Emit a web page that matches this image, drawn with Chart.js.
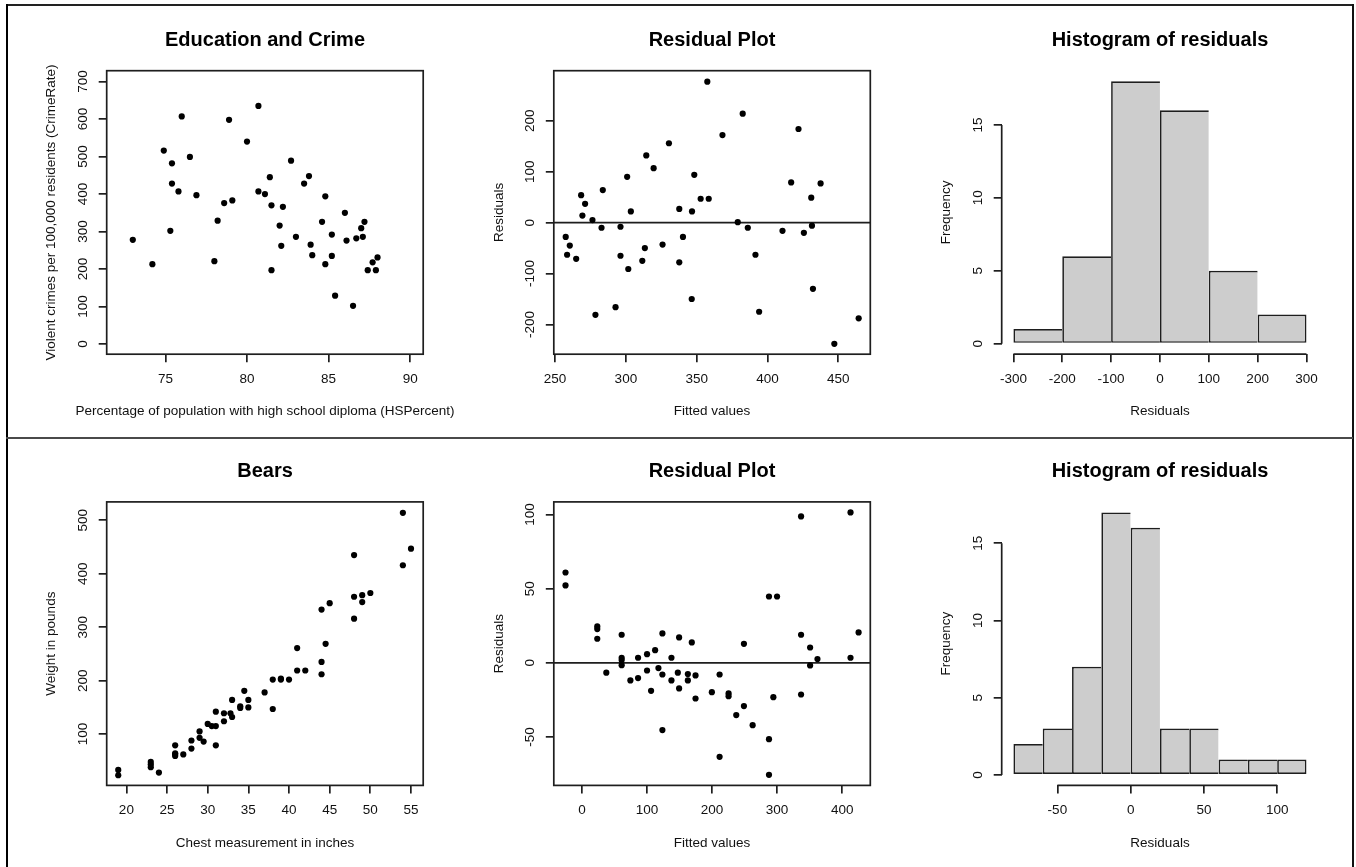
<!DOCTYPE html>
<html>
<head>
<meta charset="utf-8">
<script src="https://cdn.jsdelivr.net/npm/chart.js@4.4.0/dist/chart.umd.min.js"></script>
<style>
  html, body { margin: 0; padding: 0; background: #fff; }
  #page { position: relative; width: 1356px; height: 867px; overflow: hidden; background: #fff; }
  #page canvas { position: absolute; }
  .rule { position: absolute; }
</style>
</head>
<body>
<div id="page">
  <div class="rule" style="left:6px;top:4px;width:1348px;height:1.5px;background:#222"></div>
  <div class="rule" style="left:6px;top:4px;width:2px;height:863px;background:#000"></div>
  <div class="rule" style="left:1351.5px;top:4px;width:2px;height:863px;background:#111"></div>
  <div class="rule" style="left:6px;top:437px;width:1347px;height:1.5px;background:#4a4a4a"></div>
</div>
<script>
// education and crime
const hsPercent = [73.0, 74.2, 74.9, 75.4, 75.4, 75.3, 75.8, 76.0, 76.5, 76.9, 78.0, 78.2, 78.6, 78.9, 79.1, 80.0,
  80.7, 80.7, 81.1, 81.4, 81.5, 81.5, 82.0, 82.1, 82.2, 82.7, 83.0, 83.5, 83.8, 83.9, 84.0, 84.6,
  84.8, 84.8, 85.2, 85.2, 85.4, 86.0, 86.1, 86.5, 86.7, 87.0, 87.1, 87.2, 87.4, 87.7, 87.9, 88.0];
const crimeRate = [278, 213, 516, 482, 428, 302, 407, 607, 499, 397, 221, 329, 376, 598, 383, 540,
  407, 635, 400, 445, 370, 197, 316, 262, 366, 489, 286, 428, 448, 265, 237, 326,
  394, 213, 292, 235, 129, 350, 276, 102, 282, 309, 286, 326, 197, 218, 197, 231];
const crimeXTicks = [75, 80, 85, 90];
const crimeYTicks = [0, 100, 200, 300, 400, 500, 600, 700];

const crimeFitted = [257.5, 258.5, 260.4, 264.9, 268.4, 271.2, 269.3, 276.4, 278.5, 282.8, 283.7, 292.7,
  296.2, 296.2, 300.9, 301.7, 303.5, 311.6, 313.4, 314.4, 319.6, 325.9, 330.4, 337.7, 337.7, 340.3,
  346.5, 346.7, 348.3, 352.8, 357.5, 358.5, 368.2, 379.0, 382.5, 386.1, 391.5, 394.1, 410.6, 416.7,
  421.9, 425.7, 430.9, 431.4, 432.1, 437.5, 447.2, 464.4];
const crimeResid = [-28, -63, -45, -71, 54, 37, 14, 5, -181, -10, 64, -166, -8, -65, 90, -91, 22, -75,
  -50, 132, 107, -43, 156, 27, -78, -28, -150, 22, 94, 47, 277, 47, 172, 1, 214, -10, -63, -175,
  -16, 79, 184, -20, 49, -6, -130, 77, -238, -188];
const crimeResXTicks = [250, 300, 350, 400, 450];
const crimeResYTicks = [-200, -100, 0, 100, 200];

const crimeBreaks = [-300, -200, -100, 0, 100, 200, 300];
const crimeCounts = [1, 6, 18, 16, 5, 2];
const crimeHistXTicks = [-300, -200, -100, 0, 100, 200, 300];
const crimeHistYTicks = [0, 5, 10, 15];

// bears
const chest = [19, 19, 23, 23, 23, 24, 26, 26, 26, 26, 27, 28, 28, 29, 29, 29.5, 30, 30.5, 31, 31, 31,
  32, 32, 32.8, 33, 33, 34, 34, 34.5, 35, 35, 37, 38, 38, 39, 39, 40, 41, 41, 42, 44, 44, 44, 44.5,
  45, 48, 48, 48, 49, 49, 50, 54, 54, 55];
const weight = [33, 23, 48, 43, 38, 28, 79, 64, 62, 59, 62, 88, 73, 105, 93, 86, 119, 115, 115, 142, 79,
  139, 124, 139, 164, 132, 152, 149, 181, 164, 150, 178, 202, 147, 202, 204, 202, 261, 219, 219, 235,
  212, 333, 269, 345, 435, 357, 316, 360, 347, 364, 514, 416, 447];
const bearXTicks = [20, 25, 30, 35, 40, 45, 50, 55];
const bearYTicks = [100, 200, 300, 400, 500];

const bearFitted = [-25.2, -25.2, 23.6, 23.6, 23.6, 37.5, 61.1, 61.1, 61.1, 61.1, 74.5, 86.3, 86.3,
  100.1, 100.1, 106.3, 112.5, 117.6, 123.7, 123.7, 123.7, 137.6, 137.6, 147.4, 149.4, 149.4, 162.8,
  162.8, 168.9, 174.6, 174.6, 199.7, 211.6, 211.6, 225.4, 225.4, 237.2, 249.0, 249.0, 262.4, 287.5,
  287.5, 287.5, 294.2, 299.9, 336.8, 336.8, 336.8, 350.7, 350.7, 362.0, 412.8, 412.8, 425.2];
const bearResid = [60.9, 52.2, 24.5, 22.7, 16.2, -6.7, 18.9, 3.4, 1.8, -1.6, -11.9, 3.4, -10.3, 5.8,
  -5.2, -18.9, 8.5, -3.6, 19.8, -7.9, -45.4, 3.4, -11.9, -6.7, 17.1, -17.3, -7.6, -11.9, 13.7, -8.5,
  -24.1, -19.8, -7.9, -63.4, -20.7, -22.5, -35.3, 12.8, -29.2, -42.1, 44.7, -51.5, -75.6, -23.2, 44.7,
  98.7, 18.9, -21.4, 10.3, -1.8, 2.5, 101.4, 3.4, 20.5];
const bearResXTicks = [0, 100, 200, 300, 400];
const bearResYTicks = [-50, 0, 50, 100];

const bearBreaks = [-80, -60, -40, -20, 0, 20, 40, 60, 80, 100, 120];
const bearCounts = [2, 3, 7, 17, 16, 3, 3, 1, 1, 1];
const bearHistXTicks = [-50, 0, 50, 100];
const bearHistYTicks = [0, 5, 10, 15];

const FONT = '"Liberation Sans", Arial, Helvetica, sans-serif';
const LABEL = 13.5;
const TITLE = 20;
const INK = '#111';
const LINE = '#1e1e1e';
const LW = 1.7;
const TICK = 8;

Chart.defaults.font.family = FONT;
Chart.defaults.font.size = LABEL;
Chart.defaults.color = INK;

const colLeft = [106.7, 553.8, 1001.7];
const rowTop = [70.7, 501.9];
const PLOT_W = 316.5, PLOT_H = 283.5;
const SIDE = 70, HEAD = 66, FOOT = 70;

const page = document.getElementById('page');

function widest(labels) {
  const c = document.createElement('canvas').getContext('2d');
  c.font = LABEL + 'px ' + FONT;
  return Math.max(...labels.map(t => c.measureText(String(t)).width));
}

// R draws a box round scatter plots, hist only gets axis lines over the tick range
const rFrame = {
  id: 'rFrame',
  afterDraw(chart, args, opts) {
    const {ctx, chartArea: a} = chart;
    ctx.save();
    ctx.strokeStyle = LINE;
    ctx.lineWidth = LW;
    if (opts.box) {
      ctx.strokeRect(a.left, a.top, a.right - a.left, a.bottom - a.top);
    } else {
      const x = chart.scales.x, y = chart.scales.y;
      const xt = x.ticks, yt = y.ticks;
      ctx.beginPath();
      ctx.moveTo(x.getPixelForValue(xt[0].value), a.bottom);
      ctx.lineTo(x.getPixelForValue(xt[xt.length - 1].value), a.bottom);
      ctx.moveTo(a.left, y.getPixelForValue(yt[0].value));
      ctx.lineTo(a.left, y.getPixelForValue(yt[yt.length - 1].value));
      ctx.stroke();
    }
    ctx.restore();
  }
};

function tickGrid() {
  return {display: true, drawOnChartArea: false, drawTicks: true, tickLength: TICK, color: LINE, lineWidth: LW, offset: false};
}

function makePanel(col, row, type, datasets, s) {
  const pl = colLeft[col], pt = rowTop[row];
  const left = Math.floor(pl - SIDE), top = Math.floor(pt - HEAD);
  const yw = pl - left;
  const width = Math.round(2 * yw + PLOT_W);
  const rw = width - yw - PLOT_W;
  const height = Math.ceil(pt + PLOT_H + FOOT - top);

  const titlePadTop = (pt - 30.7 - top) - TITLE * 0.6;
  const titlePadBottom = pt - top - TITLE * 1.2 - titlePadTop;
  const subH = top + height - (pt + PLOT_H) - 57.5 + LABEL * 0.6;
  const xh = top + height - subH - (pt + PLOT_H);

  const canvas = document.createElement('canvas');
  canvas.width = width;
  canvas.height = height;
  canvas.style.left = left + 'px';
  canvas.style.top = top + 'px';
  page.appendChild(canvas);

  const yPad = 23.5 - TICK - widest(s.yTicks) / 2;

  return new Chart(canvas, {
    type: type,
    data: {datasets: datasets},
    options: {
      responsive: false,
      animation: false,
      events: [],
      devicePixelRatio: 1,
      layout: {padding: 0},
      plugins: {
        legend: {display: false},
        tooltip: {enabled: false},
        title: {
          display: true, text: s.title, color: '#000',
          font: {size: TITLE, weight: 'bold'},
          padding: {top: titlePadTop, bottom: titlePadBottom}
        },
        subtitle: {
          display: true, position: 'bottom', text: s.xlab, color: INK,
          font: {size: LABEL},
          padding: {top: 0, bottom: subH - LABEL * 1.2}
        },
        rFrame: {box: s.box}
      },
      scales: {
        x: {
          type: 'linear', position: 'bottom', min: s.xLim[0], max: s.xLim[1], offset: false,
          afterBuildTicks: sc => { sc.ticks = s.xTicks.map(v => ({value: v})); },
          afterFit: sc => { sc.height = xh; },
          grid: tickGrid(),
          border: {display: false},
          ticks: {padding: 9.2, maxRotation: 0, minRotation: 0, autoSkip: false, color: INK}
        },
        y: {
          type: 'linear', position: 'left', min: s.yLim[0], max: s.yLim[1],
          afterBuildTicks: sc => { sc.ticks = s.yTicks.map(v => ({value: v})); },
          afterFit: sc => { sc.width = yw; },
          grid: tickGrid(),
          border: {display: false},
          ticks: {minRotation: 90, maxRotation: 90, crossAlign: 'center', padding: yPad, autoSkip: false, color: INK},
          title: {
            display: true, text: s.ylab, color: INK, font: {size: LABEL},
            padding: {top: yw - 55 - LABEL * 0.6, bottom: 0}
          }
        },
        gap: {
          type: 'linear', position: 'right', display: true,
          grid: {display: false}, border: {display: false}, ticks: {display: false},
          afterFit: sc => { sc.width = rw; }
        }
      }
    },
    plugins: [rFrame]
  });
}

function points(xs, ys) {
  return {
    data: xs.map((x, i) => ({x: x, y: ys[i]})),
    pointRadius: 3.1, pointBackgroundColor: '#000', pointBorderWidth: 0, showLine: false
  };
}

function zeroLine(lim) {
  return {
    data: [{x: lim[0], y: 0}, {x: lim[1], y: 0}],
    showLine: true, pointRadius: 0, borderColor: LINE, borderWidth: LW, fill: false
  };
}

function histBars(breaks, counts) {
  const last = counts.length - 1;
  return {
    data: counts.map((c, i) => ({x: (breaks[i] + breaks[i + 1]) / 2, y: c})),
    backgroundColor: '#cdcdcd',
    borderColor: LINE,
    borderWidth: ctx => ({left: LW, top: LW, bottom: LW, right: ctx.dataIndex === last ? LW : 0}),
    borderSkipped: false,
    inflateAmount: 0,
    barPercentage: 1,
    categoryPercentage: 1
  };
}

// top row
makePanel(0, 0, 'scatter', [points(hsPercent, crimeRate)], {
  title: 'Education and Crime',
  xlab: 'Percentage of population with high school diploma (HSPercent)',
  ylab: 'Violent crimes per 100,000 residents (CrimeRate)',
  xLim: [71.4, 90.8], yLim: [-27, 729],
  xTicks: crimeXTicks, yTicks: crimeYTicks, box: true
});

const crimeResXLim = [249.1, 472.6];
makePanel(1, 0, 'scatter', [points(crimeFitted, crimeResid), zeroLine(crimeResXLim)], {
  title: 'Residual Plot', xlab: 'Fitted values', ylab: 'Residuals',
  xLim: crimeResXLim, yLim: [-258.4, 298.5],
  xTicks: crimeResXTicks, yTicks: crimeResYTicks, box: true
});

makePanel(2, 0, 'bar', [histBars(crimeBreaks, crimeCounts)], {
  title: 'Histogram of residuals', xlab: 'Residuals', ylab: 'Frequency',
  xLim: [-324, 324], yLim: [-0.72, 18.72],
  xTicks: crimeHistXTicks, yTicks: crimeHistYTicks, box: false
});

// bottom row
makePanel(0, 1, 'scatter', [points(chest, weight)], {
  title: 'Bears', xlab: 'Chest measurement in inches', ylab: 'Weight in pounds',
  xLim: [17.58, 56.5], yLim: [4, 534.5],
  xTicks: bearXTicks, yTicks: bearYTicks, box: true
});

const bearResXLim = [-43.2, 443.2];
makePanel(1, 1, 'scatter', [points(bearFitted, bearResid), zeroLine(bearResXLim)], {
  title: 'Residual Plot', xlab: 'Fitted values', ylab: 'Residuals',
  xLim: bearResXLim, yLim: [-82.7, 108.5],
  xTicks: bearResXTicks, yTicks: bearResYTicks, box: true
});

makePanel(2, 1, 'bar', [histBars(bearBreaks, bearCounts)], {
  title: 'Histogram of residuals', xlab: 'Residuals', ylab: 'Frequency',
  xLim: [-88, 128], yLim: [-0.68, 17.68],
  xTicks: bearHistXTicks, yTicks: bearHistYTicks, box: false
});
</script>
</body>
</html>
